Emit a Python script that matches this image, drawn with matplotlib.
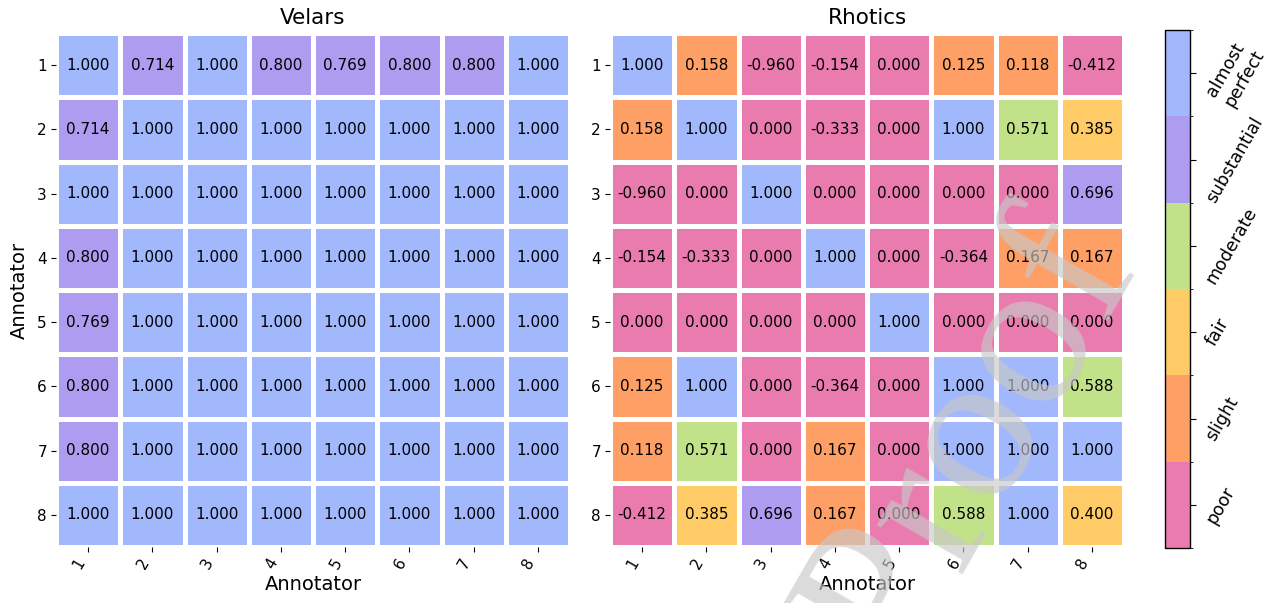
import numpy as np
import matplotlib
matplotlib.use('Agg')
import matplotlib.pyplot as plt
from matplotlib.colors import ListedColormap, BoundaryNorm

annotators = ['1', '2', '3', '4', '5', '6', '7', '8']

velars = np.array([
    [1.000, 0.714, 1.000, 0.800, 0.769, 0.800, 0.800, 1.000],
    [0.714, 1.000, 1.000, 1.000, 1.000, 1.000, 1.000, 1.000],
    [1.000, 1.000, 1.000, 1.000, 1.000, 1.000, 1.000, 1.000],
    [0.800, 1.000, 1.000, 1.000, 1.000, 1.000, 1.000, 1.000],
    [0.769, 1.000, 1.000, 1.000, 1.000, 1.000, 1.000, 1.000],
    [0.800, 1.000, 1.000, 1.000, 1.000, 1.000, 1.000, 1.000],
    [0.800, 1.000, 1.000, 1.000, 1.000, 1.000, 1.000, 1.000],
    [1.000, 1.000, 1.000, 1.000, 1.000, 1.000, 1.000, 1.000],
])

rhotics = np.array([
    [1.000, 0.158, -0.960, -0.154, 0.000, 0.125, 0.118, -0.412],
    [0.158, 1.000, 0.000, -0.333, 0.000, 1.000, 0.571, 0.385],
    [-0.960, 0.000, 1.000, 0.000, 0.000, 0.000, 0.000, 0.696],
    [-0.154, -0.333, 0.000, 1.000, 0.000, -0.364, 0.167, 0.167],
    [0.000, 0.000, 0.000, 0.000, 1.000, 0.000, 0.000, 0.000],
    [0.125, 1.000, 0.000, -0.364, 0.000, 1.000, 1.000, 0.588],
    [0.118, 0.571, 0.000, 0.167, 0.000, 1.000, 1.000, 1.000],
    [-0.412, 0.385, 0.696, 0.167, 0.000, 0.588, 1.000, 0.400],
])

# kappa agreement bins (upper edge inclusive)
bin_edges = [0.0, 0.2, 0.4, 0.6, 0.8]
levels = ['poor', 'slight', 'fair', 'moderate', 'substantial', 'almost\nperfect']
level_colors = ['#ea7baf', '#fe9f66', '#fecb66', '#c2e28a', '#ae9cf1', '#a1b8fc']

cmap = ListedColormap(level_colors)
norm = BoundaryNorm(np.arange(7), cmap.N)


def draw_panel(ax, mat, title, ylabel=None):
    cats = np.digitize(mat, bin_edges, right=True) + 0.5
    ax.pcolormesh(cats, cmap=cmap, norm=norm, edgecolors='white', linewidth=3.4)
    for i in range(mat.shape[0]):
        for j in range(mat.shape[1]):
            ax.text(j + 0.5, i + 0.5, f"{mat[i, j]:.3f}", ha='center', va='center',
                    fontsize=11, color='black')
    ax.set_xlim(0, 8)
    ax.set_ylim(8, 0)
    ax.set_xticks(np.arange(8) + 0.5)
    ax.set_yticks(np.arange(8) + 0.5)
    ax.set_xticklabels(annotators, rotation=60, ha='right', fontsize=11)
    ax.set_yticklabels(annotators, fontsize=11)
    ax.tick_params(length=3.5, width=0.8, pad=3)
    for s in ax.spines.values():
        s.set_visible(False)
    ax.set_title(title, fontsize=15.5, pad=6.5)
    ax.set_xlabel('Annotator', fontsize=14, labelpad=2)
    if ylabel:
        ax.set_ylabel(ylabel, fontsize=14, labelpad=6)


fig = plt.figure(figsize=(12.77, 6.03), dpi=100)
ax1 = fig.add_axes([56 / 1277, 1 - 547 / 603, 514 / 1277, 514 / 603])
ax2 = fig.add_axes([610 / 1277, 1 - 547 / 603, 514 / 1277, 514 / 603])
cax = fig.add_axes([1165 / 1277, 1 - 548 / 603, 25 / 1277, 518 / 603])

draw_panel(ax1, velars, 'Velars', ylabel='Annotator')
draw_panel(ax2, rhotics, 'Rhotics')

sm = plt.cm.ScalarMappable(cmap=cmap, norm=norm)
cb = fig.colorbar(sm, cax=cax, ticks=np.arange(6) + 0.5)
cb.ax.set_yticklabels(levels, rotation=60, fontsize=12.5, va='center')
cb.ax.tick_params(length=4, width=0.8, pad=5)
cb.outline.set_linewidth(1.0)

# watermark
fig.text(1018, 135, 'Proof', transform=None, fontsize=155, family='Liberation Serif',
         color='#c8c8c8', alpha=0.65, rotation=60, rotation_mode='anchor',
         ha='center', va='baseline', zorder=100)

fig.savefig('out.png', dpi=100)
